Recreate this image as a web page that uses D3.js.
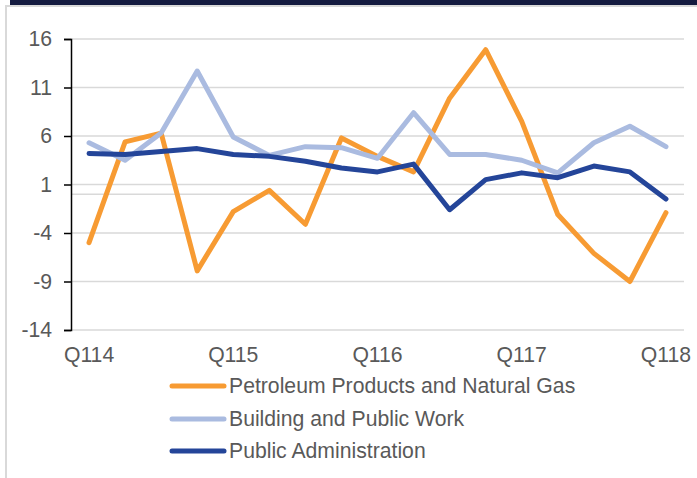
<!DOCTYPE html>
<html>
<head>
<meta charset="utf-8">
<script src="https://cdn.jsdelivr.net/npm/d3@7"></script>
<style>
  html, body { margin: 0; padding: 0; background: #ffffff; }
  svg { display: block; }
  text { font-family: "Liberation Sans", Arial, sans-serif; fill: #595959; }
</style>
</head>
<body>
<svg id="chart" width="697" height="478"></svg>
<script>
// ---- Data ----
const categories = ["Q114","Q214","Q314","Q414","Q115","Q215","Q315","Q415",
                    "Q116","Q216","Q316","Q416","Q117","Q217","Q317","Q417","Q118"];
const tickLabels = ["Q114","Q115","Q116","Q117","Q118"];
const yTicks = [16, 11, 6, 1, -4, -9, -14];
const seriesNames = ["Petroleum Products and Natural Gas", "Building and Public Work", "Public Administration"];
const seriesColors = ["#F79B33", "#AABBE0", "#244599"];
const petroleum = [-5.0, 5.4, 6.3, -7.9, -1.8, 0.4, -3.1, 5.8, 3.9, 2.3, 9.9, 14.9, 7.5, -2.1, -6.1, -9.0, -1.9];
const building  = [5.3, 3.5, 6.3, 12.7, 5.9, 4.0, 4.9, 4.8, 3.7, 8.4, 4.1, 4.1, 3.5, 2.2, 5.3, 7.0, 4.9];
const publicAdm = [4.2, 4.1, 4.4, 4.7, 4.1, 3.9, 3.4, 2.7, 2.3, 3.1, -1.6, 1.5, 2.2, 1.7, 2.9, 2.3, -0.5];
const seriesValues = [petroleum, building, publicAdm];

// ---- Layout ----
const svg = d3.select("#chart");
const pLeft = 71, pRight = 684, pTop = 39, pBottom = 330;
const fontSize = "21.2px";

// frame & header bar
svg.append("rect").attr("x", 10).attr("y", 0).attr("width", 687).attr("height", 5).attr("fill", "#141B40");
svg.append("line").attr("x1", 6).attr("x2", 697).attr("y1", 6).attr("y2", 6)
   .attr("stroke", "#D9D9D9").attr("stroke-width", 2);
svg.append("line").attr("x1", 6).attr("x2", 6).attr("y1", 5).attr("y2", 478)
   .attr("stroke", "#D9D9D9").attr("stroke-width", 2);

const x = d3.scaleBand().domain(categories).range([pLeft, pRight]);
const xc = d => x(d) + x.bandwidth() / 2;
const y = d3.scaleLinear().domain([-14, 16]).range([pBottom, pTop]);

// gridlines
svg.append("g").selectAll("line").data(yTicks).join("line")
  .attr("x1", pLeft).attr("x2", pRight)
  .attr("y1", d => y(d)).attr("y2", d => y(d))
  .attr("stroke", "#D9D9D9").attr("stroke-width", 1.5);
// zero (category axis) line
svg.append("line").attr("x1", pLeft).attr("x2", pRight).attr("y1", y(0)).attr("y2", y(0))
  .attr("stroke", "#D9D9D9").attr("stroke-width", 1.5);

// y axis
const yAxis = d3.axisLeft(y).tickValues(yTicks).tickSize(7).tickPadding(12).tickFormat(d => String(d));
const yg = svg.append("g").attr("transform", `translate(${pLeft},0)`).call(yAxis);
yg.select(".domain").attr("stroke", "#000").attr("stroke-width", 1.5);
yg.selectAll(".tick line").attr("stroke", "#000").attr("stroke-width", 1.5);
yg.selectAll(".tick text").style("font-size", fontSize).style("font-family", "Liberation Sans, Arial, sans-serif")
  .attr("fill", "#595959");

// x labels
const xAxis = d3.axisBottom(x).tickValues(tickLabels).tickSize(0).tickPadding(0);
const xg = svg.append("g").attr("transform", `translate(0,${pBottom})`).call(xAxis);
xg.select(".domain").remove();
xg.selectAll(".tick text").style("font-size", fontSize).style("font-family", "Liberation Sans, Arial, sans-serif")
  .attr("fill", "#595959").attr("y", 32).attr("dy", 0);

// lines
const line = d3.line().x((d, i) => xc(categories[i])).y(d => y(d));
seriesValues.forEach((vals, k) => {
  svg.append("path").datum(vals).attr("d", line)
    .attr("fill", "none").attr("stroke", seriesColors[k]).attr("stroke-width", 5)
    .attr("stroke-linejoin", "round").attr("stroke-linecap", "round");
});

// legend
const legendY = [386, 419, 451];
const lg = svg.append("g");
seriesNames.forEach((name, k) => {
  lg.append("line").attr("x1", 172).attr("x2", 224).attr("y1", legendY[k]).attr("y2", legendY[k])
    .attr("stroke", seriesColors[k]).attr("stroke-width", 5).attr("stroke-linecap", "round");
  lg.append("text").attr("x", 229).attr("y", legendY[k]).attr("dy", "0.35em")
    .style("font-size", fontSize).text(name);
});
</script>
</body>
</html>
